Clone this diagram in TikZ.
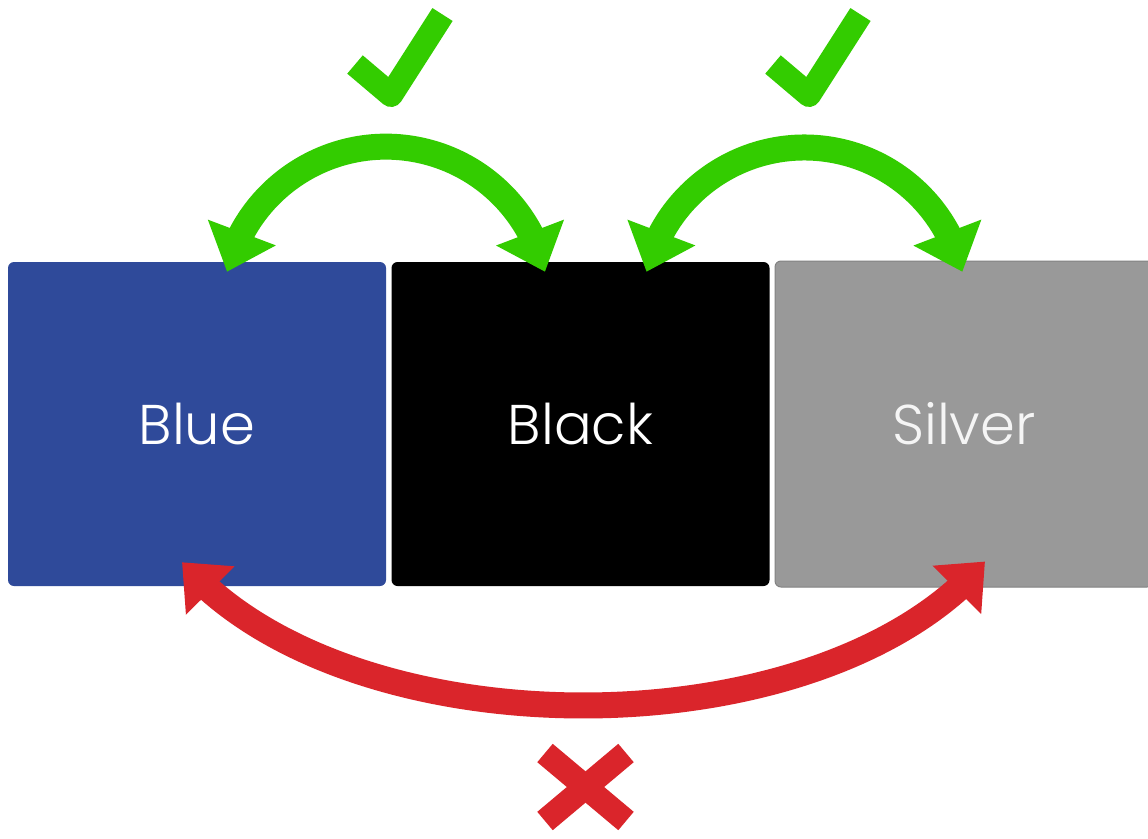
\documentclass[tikz,border=0pt]{standalone}
\usepackage{fontspec}
\setmainfont{Poppins}[UprightFont={* Light}]
\usetikzlibrary{arrows.meta,calc,bending}
\definecolor{cblue}{RGB}{47,74,154}
\definecolor{csilver}{RGB}{153,153,153}
\definecolor{cgreen}{RGB}{51,204,0}
\definecolor{cred}{RGB}{218,37,43}
\tikzset{
  box/.style={rectangle, rounded corners=6pt, minimum width=378pt, minimum height=324pt,
    inner sep=0pt, text=white, font=\fontsize{56}{60}\selectfont},
  garrow/.style={draw=cgreen, line width=26pt,
    {Triangle[width=70pt,length=42pt]}-{Triangle[width=70pt,length=42pt]}},
  rarrow/.style={draw=cred, line width=26pt,
    {Triangle[width=66pt,length=40pt]}-{Triangle[width=66pt,length=40pt]}},
  checkmark/.style={draw=cgreen, line width=24pt, line join=round, line cap=butt},
  crossmark/.style={draw=cred, line width=24pt, line cap=butt}
}
\begin{document}
\begin{tikzpicture}[x=1pt,y=-1pt]
\useasboundingbox (0,0) rectangle (1148,838);
\fill[white] (0,0) rectangle (1148,838);
\node[box, fill=cblue] (blue) at (197,424) {Blue};
\node[box, fill=black] (black) at (580.5,424) {Black};
\node[box, fill=csilver, draw=csilver!85!black, line width=1pt, minimum height=326pt, text=white!96!black] (silver) at (964,424) {Silver};
% green arcs
\draw[garrow] ($(blue.north)+(30,10)$) arc[start angle=193.6, end angle=346.4, radius=163.6];
\draw[garrow] ($(black.north)+(66,10)$) arc[start angle=193.6, end angle=346.4, radius=162.5];
% red arc
\draw[rarrow] ($(blue.south)+(-15,-24)$) .. controls +(165,191) and +(-165,192) .. ($(silver.south)+(21,-26)$);
% check marks
\draw[checkmark] (355,64.5) -- (391,95) -- (442.5,14.5);
\draw[checkmark] (773,64.5) -- (809,95) -- (860.5,14.5);
% cross
\draw[crossmark] (545,753) -- (626,821);
\draw[crossmark] (626,753) -- (545,821);
\end{tikzpicture}
\end{document}
